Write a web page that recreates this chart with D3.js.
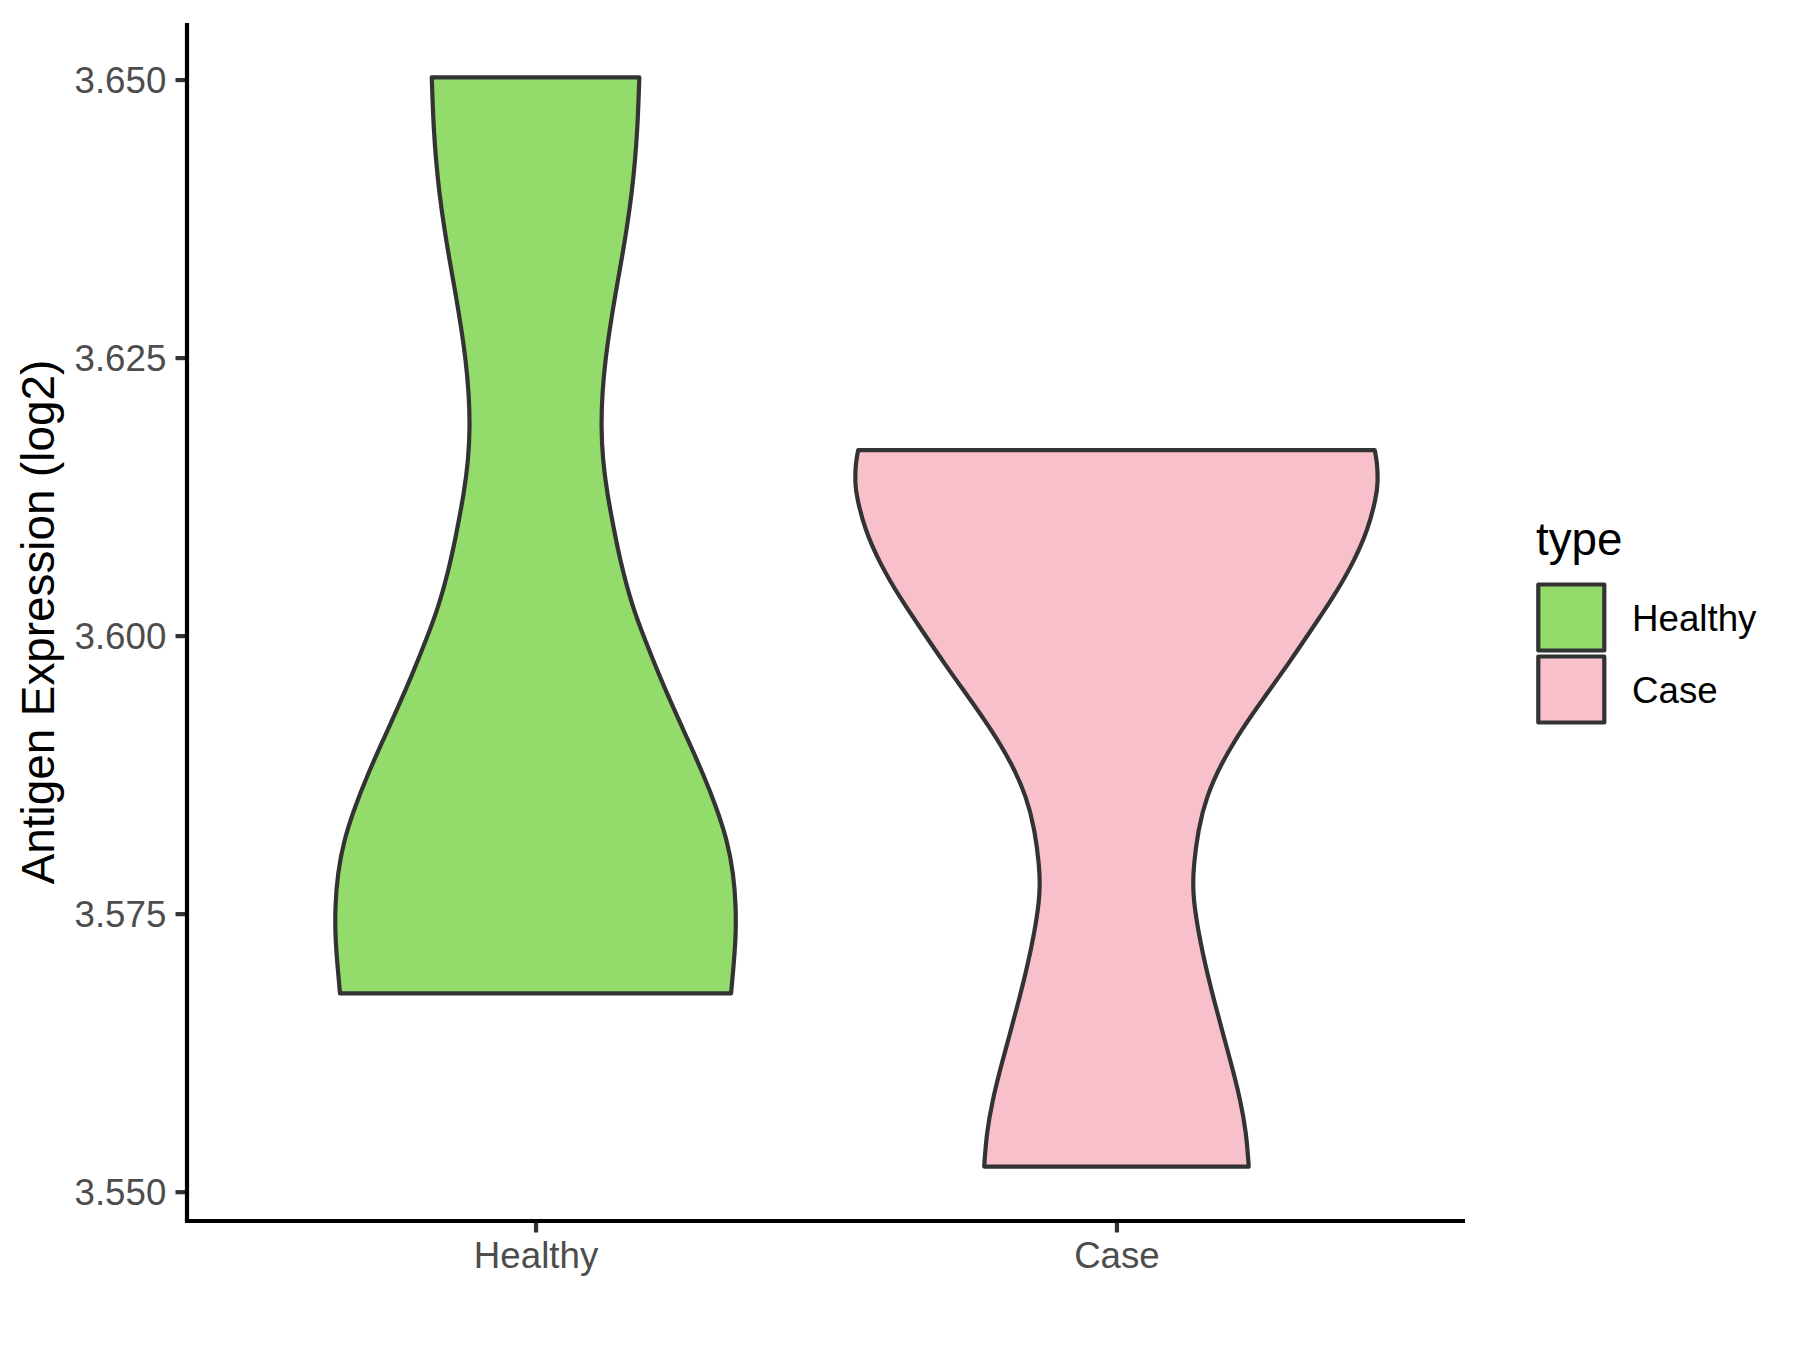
<!DOCTYPE html>
<html>
<head>
<meta charset="utf-8">
<script src="https://cdn.jsdelivr.net/npm/d3@7"></script>
<style>
  html, body { margin: 0; padding: 0; background: #ffffff; }
  svg { display: block; }
  text { font-family: "Liberation Sans", Arial, Helvetica, sans-serif; }
</style>
</head>
<body>
<svg id="chart" width="1800" height="1350"></svg>
<script>
// ---- data ----
const categories = ["Healthy", "Case"];
const fills = ["#93DC6B", "#F7C0CB"];
const yTicks = [3.550, 3.575, 3.600, 3.625, 3.650];

// violin outline: expression level and relative density (1 = widest violin)
const healthyValues = [3.65019, 3.64875, 3.64575, 3.64275, 3.63976, 3.63676, 3.63376, 3.63077,
  3.62777, 3.62478, 3.62178, 3.61878, 3.61579, 3.61279, 3.60979, 3.60680, 3.60260, 3.59960,
  3.59661, 3.59361, 3.59062, 3.58762, 3.58462, 3.58162, 3.57863, 3.57563, 3.57264, 3.56964, 3.56784];
const healthyDensity = [0.397, 0.395, 0.390, 0.381, 0.368, 0.350, 0.329, 0.306,
  0.285, 0.267, 0.255, 0.251, 0.257, 0.274, 0.298, 0.323, 0.370, 0.419,
  0.470, 0.525, 0.583, 0.640, 0.691, 0.733, 0.757, 0.767, 0.766, 0.755, 0.748];

const caseValues = [3.61668, 3.61549, 3.61369, 3.61249, 3.60949, 3.60650, 3.60350, 3.60050,
  3.59751, 3.59451, 3.59151, 3.58852, 3.58552, 3.58252, 3.57922, 3.57773, 3.57623, 3.57324,
  3.57024, 3.56724, 3.56425, 3.56125, 3.55825, 3.55526, 3.55226];
const caseDensity = [0.988, 0.998, 1.000, 0.994, 0.962, 0.905, 0.831, 0.745,
  0.659, 0.567, 0.477, 0.401, 0.344, 0.312, 0.295, 0.293, 0.295, 0.314,
  0.341, 0.373, 0.407, 0.442, 0.474, 0.497, 0.506];

const legendTitle = "type";
const yTitle = "Antigen Expression (log2)";

// ---- layout ----
const panel = { left: 187, right: 1465, top: 23, bottom: 1221 };
const axisColor = "#000000";
const tickColor = "#333333";
const labelColor = "#4D4D4D";
const lineW = 4.2;
const tickLen = 11.5;
const tickFont = 36.7;
const titleFont = 45.8;

const svg = d3.select("#chart");

const groups = [
  { name: categories[0], fill: fills[0], pts: healthyValues.map((v, i) => ({ v, d: healthyDensity[i] })) },
  { name: categories[1], fill: fills[1], pts: caseValues.map((v, i) => ({ v, d: caseDensity[i] })) }
];

const allVals = healthyValues.concat(caseValues);
const lo = d3.min(allVals), hi = d3.max(allVals);
const pad = (hi - lo) * 0.05;

const y = d3.scaleLinear().domain([lo - pad, hi + pad]).range([panel.bottom, panel.top]);
const x = d3.scalePoint().domain(categories).range([panel.left, panel.right]).padding(0.6);
const step = x.step();
const maxDens = d3.max(groups, g => d3.max(g.pts, p => p.d));

// ---- violins ----
const plot = svg.append("g");
groups.forEach(g => {
  const cx = x(g.name);
  const area = d3.area()
    .y(p => y(p.v))
    .x0(p => cx - p.d / maxDens * 0.45 * step)
    .x1(p => cx + p.d / maxDens * 0.45 * step)
    .curve(d3.curveBasis);
  plot.append("path")
    .datum(g.pts)
    .attr("d", area)
    .attr("fill", g.fill)
    .attr("stroke", "#333333")
    .attr("stroke-width", lineW)
    .attr("stroke-linejoin", "round");
});

// ---- axes ----
const yAxis = d3.axisLeft(y).tickValues(yTicks).tickFormat(d3.format(".3f"))
  .tickSize(tickLen).tickPadding(9.2);
const gy = svg.append("g").attr("transform", `translate(${panel.left},0)`).call(yAxis);
gy.select(".domain").remove();
gy.selectAll(".tick line").attr("stroke", tickColor).attr("stroke-width", lineW);
gy.selectAll(".tick text")
  .attr("fill", labelColor)
  .attr("font-size", tickFont)
  .attr("font-family", '"Liberation Sans", Arial, sans-serif')
  .attr("dy", "0.36em");

const xAxis = d3.axisBottom(x).tickSize(tickLen).tickPadding(9.2);
const gx = svg.append("g").attr("transform", `translate(0,${panel.bottom})`).call(xAxis);
gx.select(".domain").remove();
gx.selectAll(".tick line").attr("stroke", tickColor).attr("stroke-width", lineW);
gx.selectAll(".tick text")
  .attr("fill", labelColor)
  .attr("font-size", tickFont)
  .attr("font-family", '"Liberation Sans", Arial, sans-serif')
  .attr("dy", "0.73em");

// axis lines
svg.append("line")
  .attr("x1", panel.left).attr("x2", panel.left)
  .attr("y1", panel.top).attr("y2", panel.bottom)
  .attr("stroke", axisColor).attr("stroke-width", lineW).attr("stroke-linecap", "butt");
svg.append("line")
  .attr("x1", panel.left - lineW / 2).attr("x2", panel.right)
  .attr("y1", panel.bottom).attr("y2", panel.bottom)
  .attr("stroke", axisColor).attr("stroke-width", lineW).attr("stroke-linecap", "butt");

// y title
svg.append("text")
  .attr("transform", `translate(54,${(panel.top + panel.bottom) / 2}) rotate(-90)`)
  .attr("text-anchor", "middle")
  .attr("font-size", titleFont)
  .attr("fill", "#000000")
  .text(yTitle);

// ---- legend ----
const lg = svg.append("g");
lg.append("text")
  .attr("x", 1536).attr("y", 555)
  .attr("font-size", titleFont)
  .attr("fill", "#000000")
  .text(legendTitle);
const keySize = 66, keyStep = 72, keyX = 1571.3, keyY0 = 617.5;
categories.forEach((c, i) => {
  const cy = keyY0 + i * keyStep;
  lg.append("rect")
    .attr("x", keyX - keySize / 2).attr("y", cy - keySize / 2)
    .attr("width", keySize).attr("height", keySize)
    .attr("fill", fills[i])
    .attr("stroke", "#333333")
    .attr("stroke-width", lineW)
    .attr("stroke-linejoin", "round");
  lg.append("text")
    .attr("x", 1632).attr("y", cy)
    .attr("dy", "0.36em")
    .attr("font-size", tickFont)
    .attr("fill", "#000000")
    .text(c);
});
</script>
</body>
</html>
